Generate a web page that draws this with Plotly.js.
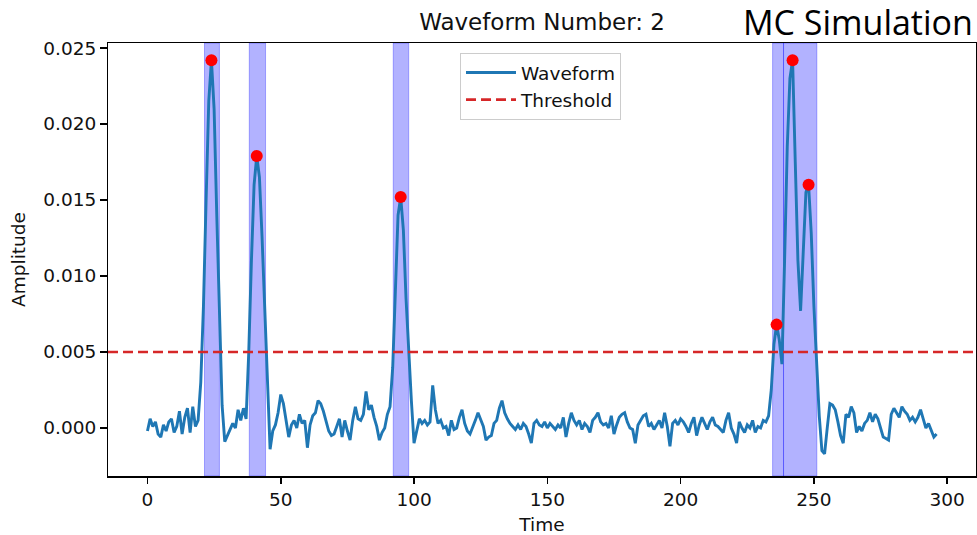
<!DOCTYPE html>
<html>
<head>
<meta charset="utf-8">
<script src="https://cdn.plot.ly/plotly-3.0.1.min.js"></script>
<style>html,body{margin:0;padding:0;background:#fff;}#chart{width:977px;height:535px;}</style>
</head>
<body>
<div id="chart"></div>
<script>
// Waveform amplitude sampled at time 0..296
const waveform = [
-0.0002,0.0006,0.0001,0.0004,-0.0004,-0.0006,0.0002,-0.0002,0.0004,0.0006,
-0.0003,0.0001,0.0011,-0.0004,0.0007,0.0013,-0.0003,0.0014,0.0001,0.0005,
0.0030,0.0080,0.0150,0.0215,0.0242,0.0210,0.0140,0.0068,0.0015,-0.0009,
-0.0005,0.0000,0.0003,0.0000,0.0012,0.0005,0.0013,0.0006,0.0050,0.0110,
0.0160,0.0179,0.0165,0.0125,0.0075,0.0030,-0.0014,-0.0002,0.0002,0.0010,
0.0022,0.0016,0.0005,-0.0006,0.0002,0.0005,0.0000,0.0009,0.0003,0.0005,
-0.0013,0.0002,0.0008,0.0010,0.0018,0.0016,0.0011,0.0004,-0.0002,-0.0005,
-0.0004,0.0001,0.0006,-0.0006,0.0005,-0.0002,-0.0008,0.0005,0.0014,0.0006,
0.0005,0.0009,0.0024,0.0012,0.0015,0.0007,0.0001,-0.0008,-0.0003,0.0000,
0.0009,0.0014,0.0040,0.0090,0.0140,0.0152,0.0130,0.0085,0.0048,0.0018,
-0.0010,-0.0002,0.0006,0.0003,0.0005,0.0002,0.0004,0.0028,0.0012,0.0003,
0.0005,0.0000,0.0001,-0.0005,0.0005,-0.0001,0.0000,0.0007,0.0012,0.0003,
-0.0002,-0.0004,0.0000,0.0005,0.0010,0.0005,0.0001,-0.0008,-0.0006,-0.0005,
0.0003,0.0005,0.0013,0.0018,0.0010,0.0006,0.0003,0.0001,-0.0001,0.0002,
-0.0001,0.0003,0.0001,-0.0004,-0.0010,0.0003,0.0005,0.0002,0.0001,0.0004,
0.0000,0.0003,0.0001,-0.0001,0.0002,0.0000,0.0007,-0.0006,0.0003,0.0010,
0.0005,0.0002,0.0005,-0.0001,0.0003,0.0001,-0.0003,0.0005,0.0007,0.0010,
0.0004,0.0002,0.0003,0.0000,0.0008,-0.0004,0.0002,0.0007,0.0009,0.0010,
0.0004,0.0000,-0.0001,-0.0010,0.0002,0.0005,0.0008,0.0009,0.0001,0.0003,
-0.0001,0.0002,0.0005,0.0000,0.0010,0.0001,-0.0012,0.0003,0.0005,0.0002,
0.0006,0.0004,0.0001,-0.0003,0.0003,0.0007,-0.0005,0.0002,0.0007,0.0003,
-0.0001,0.0004,0.0007,0.0002,0.0001,-0.0001,-0.0003,0.0005,0.0010,0.0000,
-0.0004,-0.0010,0.0004,0.0000,-0.0003,0.0002,0.0000,0.0005,-0.0003,0.0001,
0.0000,0.0005,0.0004,0.0008,0.0025,0.0055,0.0068,0.0058,0.0042,0.0110,
0.0185,0.0230,0.0242,0.0175,0.0110,0.0077,0.0115,0.0155,0.0160,0.0128,
0.0080,0.0040,0.0008,-0.0015,-0.0017,0.0000,0.0016,0.0015,0.0012,0.0004,
-0.0005,-0.0010,0.0009,0.0007,0.0014,0.0010,-0.0003,0.0001,-0.0002,0.0003,
0.0005,0.0010,0.0004,0.0009,0.0006,0.0000,-0.0006,-0.0007,-0.0008,0.0009,
0.0013,0.0010,0.0007,0.0014,0.0011,0.0009,0.0005,0.0007,0.0004,0.0007,
0.0012,0.0006,0.0000,0.0003,-0.0001,-0.0006,-0.0004
];
const time = waveform.map((_, i) => i);

// Detected peaks
const peakTimes = [24, 41, 95, 236, 242, 248];
const peakValues = [0.0242, 0.0179, 0.0152, 0.0068, 0.0242, 0.0160];

// Highlighted pulse windows
const spanStarts = [21.4, 38.2, 92.2, 234.5, 238.6];
const spanEnds   = [27.0, 44.3, 98.0, 238.6, 251.1];

const threshold = 0.005;
const xTickVals = [0, 50, 100, 150, 200, 250, 300];
const yTickVals = [0.000, 0.005, 0.010, 0.015, 0.020, 0.025];
const xRange = [-14.8, 310.8];
const yRange = [-0.00316, 0.02533];

const FONT = '"DejaVu Sans", sans-serif';

const traces = [
  {
    x: time, y: waveform, type: 'scatter', mode: 'lines', name: 'Waveform',
    line: {color: '#1f77b4', width: 2.9}
  },
  {
    x: xRange, y: [threshold, threshold], type: 'scatter', mode: 'lines', name: 'Threshold',
    line: {color: '#d62728', width: 2.6, dash: '10px,5px'}
  },
  {
    x: peakTimes, y: peakValues, type: 'scatter', mode: 'markers', showlegend: false,
    marker: {color: '#ff0000', size: 12}
  }
];

const shapes = spanStarts.map((s, i) => ({
  type: 'rect', xref: 'x', yref: 'paper', x0: s, x1: spanEnds[i], y0: 0, y1: 1,
  fillcolor: 'rgba(0,0,255,0.3)', line: {color: 'rgba(0,0,255,0.3)', width: 1},
  layer: 'below'
}));

const layout = {
  width: 977, height: 535,
  margin: {l: 108, r: 1, t: 43, b: 59},
  paper_bgcolor: '#ffffff', plot_bgcolor: '#ffffff',
  font: {family: FONT, size: 18.5, color: '#000'},
  title: {
    text: 'Waveform Number: 2', x: 0.5, xref: 'paper', xanchor: 'center',
    y: 1 - 22/535, yref: 'container', yanchor: 'middle',
    font: {family: FONT, size: 23, color: '#111'}
  },
  xaxis: {
    range: xRange, tickvals: xTickVals, ticktext: xTickVals.map(String),
    showgrid: false, zeroline: false, showline: true, mirror: true,
    linecolor: '#000', linewidth: 1.5, ticks: 'outside', ticklen: 6.5, tickwidth: 1.5, tickcolor: '#000',
    tickfont: {family: FONT, size: 18.5, color: '#111'},
    title: {text: 'Time', font: {family: FONT, size: 18.5, color: '#111'}, standoff: 9}
  },
  yaxis: {
    range: yRange, tickvals: yTickVals, ticktext: yTickVals.map(v => v.toFixed(3)),
    showgrid: false, zeroline: false, showline: true, mirror: true,
    linecolor: '#000', linewidth: 1.5, ticks: 'outside', ticklen: 6.5, tickwidth: 1.5, tickcolor: '#000',
    tickfont: {family: FONT, size: 18.5, color: '#111'},
    title: {text: 'Amplitude', font: {family: FONT, size: 18.5, color: '#111'}, standoff: 13}
  },
  legend: {
    x: (460 - 108) / 868, y: (476 - 53) / 433, xanchor: 'left', yanchor: 'top',
    bgcolor: 'rgba(255,255,255,0.8)', bordercolor: '#cccccc', borderwidth: 1,
    itemwidth: 50,
    font: {family: FONT, size: 18.5, color: '#111'}
  },
  shapes: shapes,
  annotations: [{
    text: 'MC Simulation', xref: 'paper', yref: 'paper', x: (975 - 108) / 868, y: 1 + (43 - 22) / 433,
    xanchor: 'right', yanchor: 'middle', align: 'right', showarrow: false,
    font: {family: '"Open Sans", sans-serif', size: 34, color: '#000'}
  }],
  showlegend: true
};

Plotly.newPlot('chart', traces, layout, {displayModeBar: false, staticPlot: true});
</script>
</body>
</html>
